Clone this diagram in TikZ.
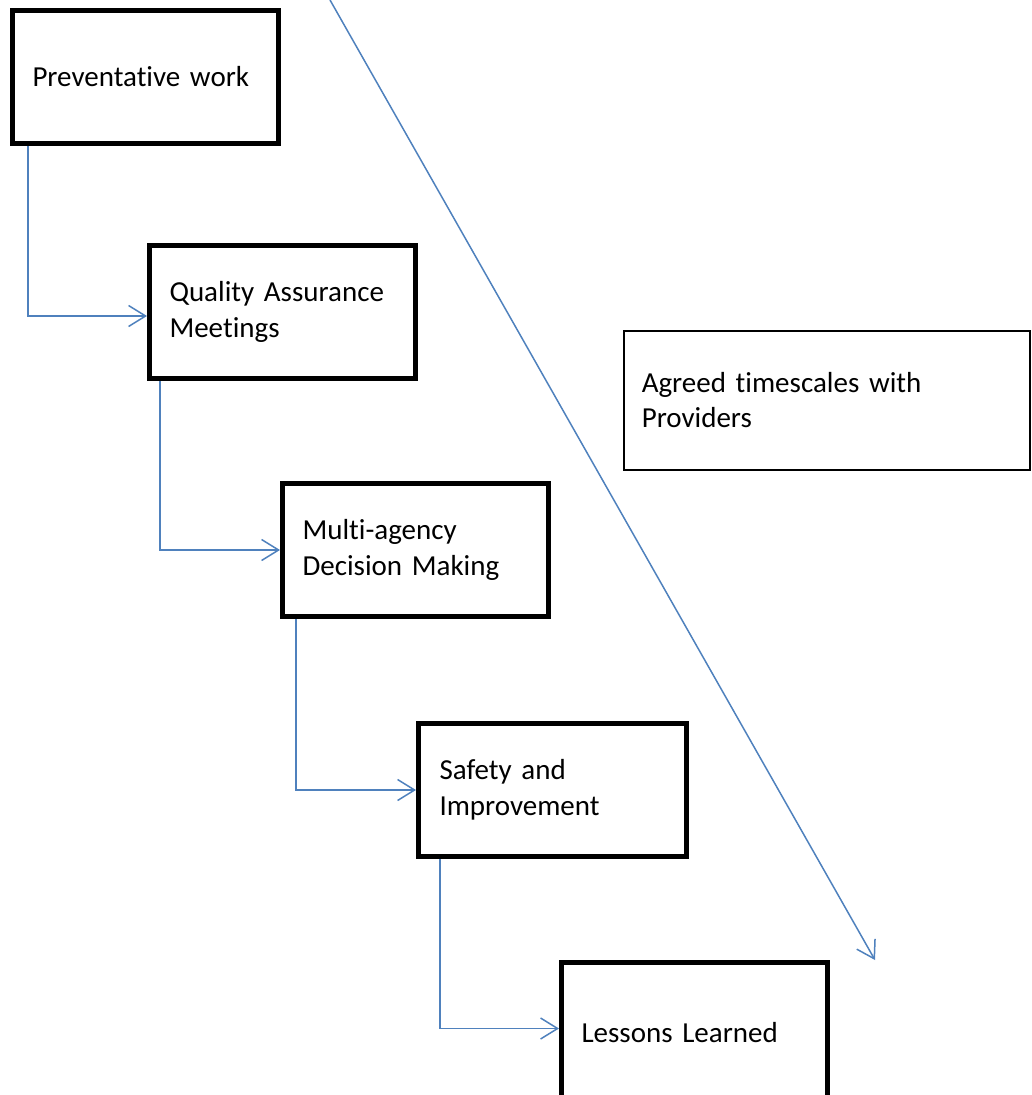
\documentclass[tikz,border=0pt]{standalone}
\usepackage{fontspec}
\setmainfont{Carlito}[Ligatures=NoCommon]
\usetikzlibrary{arrows.meta,positioning,calc}
\definecolor{linkblue}{RGB}{79,129,189}

\begin{document}
\begin{tikzpicture}[x=1pt, y=-1pt, >={Straight Barb[length=17pt, width=21pt]}]
  \tikzset{
    flow/.style={->, draw=linkblue, line width=1.5pt},
    stage/.style={draw, line width=5pt, fill=white, anchor=north west, minimum width=266pt, minimum height=133pt,
      inner xsep=20pt, text width=226pt, align=left, font=\fontsize{29pt}{35.5pt}\selectfont},
    note/.style={draw, line width=1.5pt, fill=white, anchor=north west, minimum width=406pt, minimum height=139pt,
      inner xsep=18pt, text width=370pt, align=left, font=\fontsize{29pt}{35.5pt}\selectfont}
  }
  \useasboundingbox (0,0) rectangle (1031,1095);

  % Stages
  \node[stage] (prevent) at (10,8)    {Preventative work};
  \node[stage] (quality) at (147,243) {Quality Assurance\\Meetings};
  \node[stage] (decide)  at (280,481) {Multi-agency\\Decision Making};
  \node[stage, minimum width=268pt] (safety)  at (416,721) {Safety and\\Improvement};
  \node[stage, minimum height=140pt] (lessons) at (559,960) {Lessons Learned};

  \node[note] (timescale) at (623,330) {Agreed timescales with\\Providers};

  % Timeline arrow
  \coordinate (timetop) at (330,0);
  \coordinate (timeend) at (875,960);
  \draw[flow] (timetop) -- (timeend);

  % Stage connections
  \draw[flow] ([xshift=18pt]prevent.south west) |- ([yshift=-4pt]quality.west);
  \draw[flow] ([xshift=13pt]quality.south west) |- (decide.west);
  \draw[flow] ([xshift=16pt]decide.south west)  |- (safety.west);
  \draw[flow] ([xshift=24pt]safety.south west)  |- ([yshift=4pt]lessons.west);

\end{tikzpicture}
\end{document}
